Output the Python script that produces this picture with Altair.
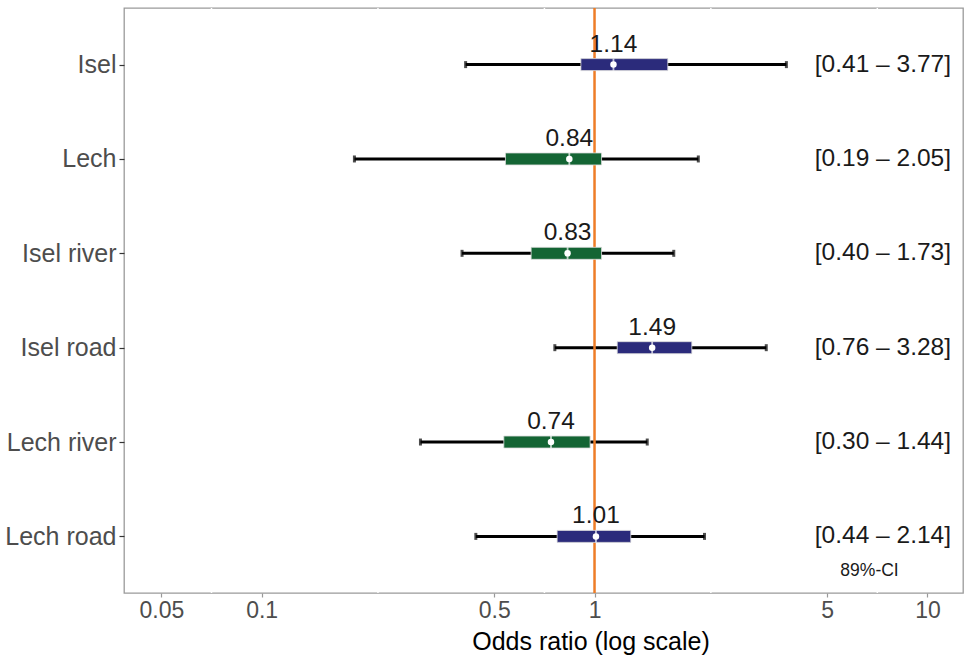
import altair as alt
import pandas as pd

rows = ["Isel", "Lech", "Isel river", "Isel road", "Lech river", "Lech road"]
median = [1.14, 0.84, 0.83, 1.49, 0.74, 1.01]
ci_lo = [0.41, 0.19, 0.40, 0.76, 0.30, 0.44]
ci_hi = [3.77, 2.05, 1.73, 3.28, 1.44, 2.14]
inner_lo = [0.91, 0.54, 0.645, 1.17, 0.534, 0.772]
inner_hi = [1.66, 1.05, 1.05, 1.96, 0.97, 1.285]
direction = ["pos", "neg", "neg", "pos", "neg", "pos"]
ci_label_x = 7.35
ci_note = "89%-CI"
ci_note_x = 6.7
x_ticks = [0.05, 0.1, 0.5, 1, 5, 10]
minor_breaks = [0.0707, 0.2236, 0.7071, 2.236, 7.071]
ref_value = [1]

df = pd.DataFrame({
    "row": rows, "median": median, "ci_lo": ci_lo, "ci_hi": ci_hi,
    "inner_lo": inner_lo, "inner_hi": inner_hi, "direction": direction,
})
df["med_label"] = [f"{m:.2f}" for m in median]
df["ci_label"] = [f"[{lo:.2f} – {hi:.2f}]" for lo, hi in zip(ci_lo, ci_hi)]
df["ci_x"] = ci_label_x

note_df = pd.DataFrame({"row": [rows[-1]], "x": [ci_note_x], "txt": [ci_note]})
ref_df = pd.DataFrame({"x": ref_value})
minor_df = pd.DataFrame({"x": minor_breaks})

FONT = "Liberation Sans"
xscale = alt.Scale(type="log", domain=[0.0386, 12.79], nice=False)
xaxis = alt.Axis(values=x_ticks, format="~g", title="Odds ratio (log scale)",
                 titleFontSize=25, titleFontWeight="normal", titleColor="#000000",
                 titleFont=FONT, labelFont=FONT, labelFontSize=23,
                 labelColor="#4d4d4d", tickColor="#999999", tickSize=4,
                 tickWidth=1.2, domain=False, grid=False, labelPadding=2,
                 titlePadding=7, titleX=466.5, titleAlign="center")
yenc = alt.Y("row:N", sort=rows, scale=alt.Scale(type="point", padding=0.6, domain=rows),
             axis=alt.Axis(title=None, labelFontSize=25, labelColor="#4d4d4d",
                           tickColor="#333333", tickSize=5, tickWidth=1.2, labelPadding=3,
                           domain=False, grid=False, labelFont=FONT))
color = alt.Color("direction:N", scale=alt.Scale(domain=["pos", "neg"], range=["#2B2B7B", "#146534"]),
                  legend=None)


def X(field):
    return alt.X(field, scale=xscale, axis=xaxis, title="Odds ratio (log scale)")


base = alt.Chart(df)

minor = alt.Chart(minor_df).mark_rule(color="white", strokeWidth=1.5).encode(x=X("x:Q"))

whisk = base.mark_rule(color="black", strokeWidth=3).encode(x=X("ci_lo:Q"), x2="ci_hi:Q", y=yenc)
cap_lo = base.mark_tick(color="black", orient="vertical", size=7, thickness=3).encode(
    x=X("ci_lo:Q"), y=yenc)
cap_hi = base.mark_tick(color="black", orient="vertical", size=7, thickness=3).encode(
    x=X("ci_hi:Q"), y=yenc)

ref = alt.Chart(ref_df).mark_rule(color="#EE7D27", strokeWidth=2.5).encode(x=X("x:Q"))

box = base.mark_bar(height=12, stroke="#dddddd", strokeWidth=0.8).encode(
    x=X("inner_lo:Q"), x2="inner_hi:Q", y=yenc, color=color)

gap = base.mark_tick(color="white", orient="vertical", size=12, thickness=1.8).encode(
    x=X("median:Q"), y=yenc)
dot = base.mark_point(filled=True, color="white", size=42, opacity=1).encode(
    x=X("median:Q"), y=yenc)

med_txt = base.mark_text(font=FONT, fontSize=24.5, color="#1a1a1a", dy=-13,
                         baseline="alphabetic", align="center").encode(
    x=X("median:Q"), y=yenc, text="med_label:N")

ci_txt = base.mark_text(font=FONT, fontSize=24.5, color="#1a1a1a", baseline="middle",
                        align="center").encode(
    x=X("ci_x:Q"), y=yenc, text="ci_label:N")

note_txt = alt.Chart(note_df).mark_text(font=FONT, fontSize=17.5, color="#1a1a1a",
                                        baseline="middle", align="center", dy=35).encode(
    x=X("x:Q"), y=yenc, text="txt:N")

chart = alt.layer(minor, whisk, cap_lo, cap_hi, ref, box, gap, dot, med_txt, ci_txt, note_txt).properties(
    width=839, height=585,
    autosize=alt.AutoSizeParams(type="none"),
    padding={"left": 124, "top": 8, "right": 3, "bottom": 63},
    background="white",
).configure_view(stroke="#9a9a9a", strokeWidth=1.3)

chart.save("out.html", embed_options={"renderer": "svg", "actions": False})
